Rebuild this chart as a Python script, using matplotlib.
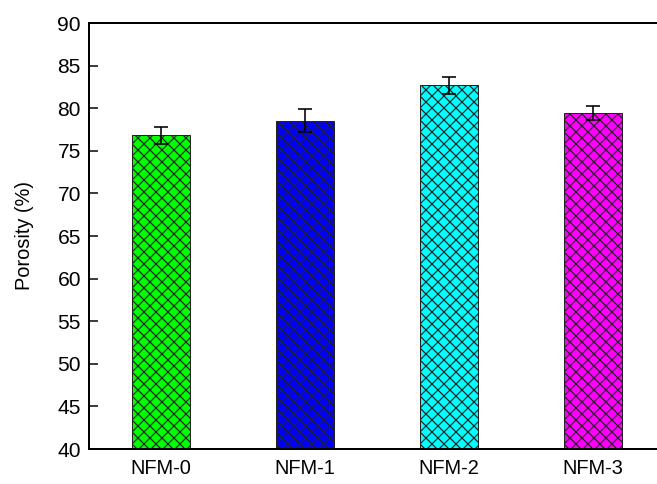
import matplotlib
matplotlib.use("Agg")
import matplotlib.pyplot as plt

# sample names and measured porosity
samples = ["NFM-0", "NFM-1", "NFM-2", "NFM-3"]
porosity = [76.8, 78.5, 82.7, 79.4]
porosity_err = [1.0, 1.35, 1.0, 0.8]
bar_colors = ["#00FF00", "#0000FF", "#00FFFF", "#FF00FF"]

plt.rcParams['font.family'] = ['Liberation Sans', 'DejaVu Sans']
plt.rcParams['hatch.linewidth'] = 1.2

fig = plt.figure(figsize=(657 / 72, 484 / 72), dpi=72)
ax = fig.add_axes([89 / 657, 35 / 484, 1 - 89 / 657, 426 / 484])

x = list(range(len(samples)))
ax.bar(x, porosity, width=0.4, color=bar_colors, edgecolor='#222222',
       linewidth=1.0, hatch='xx', zorder=2)
ax.errorbar(x, porosity, yerr=porosity_err, fmt='none', ecolor='black',
            elinewidth=1.6, capsize=7, capthick=1.6, zorder=3)

ax.set_ylim(40, 90)
ax.set_xlim(-0.5, (657 - 161) / 144)
ax.set_yticks(range(40, 91, 5))
ax.set_xticks(x)
ax.set_xticklabels(samples)
ax.tick_params(axis='y', direction='in', length=9, width=1.5, labelsize=21, pad=8)
ax.tick_params(axis='x', length=0, labelsize=20, pad=10)
ax.set_ylabel("Porosity (%)", fontsize=20, labelpad=24)

ax.spines['right'].set_visible(False)
for s in ['left', 'top', 'bottom']:
    ax.spines[s].set_linewidth(2)

fig.savefig("out.png", dpi=72)
